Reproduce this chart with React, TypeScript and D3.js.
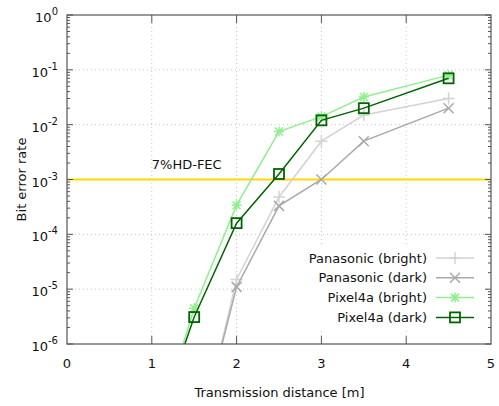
import React from 'react';
import * as d3 from 'd3';

// transmission distance [m]
const distances = [1, 1.5, 2, 2.5, 3, 3.5, 4.5];

// bit error rate per series (null = no measurement)
const panasonicBright = [null, 8e-9, 1.5e-5, 4.8e-4, 5e-3, 1.5e-2, 3e-2];
const panasonicDark = [null, 1e-8, 1.1e-5, 3.3e-4, 1e-3, 5e-3, 2e-2];
const pixelBright = [1.4e-8, 4.5e-6, 3.4e-4, 7.5e-3, 1.4e-2, 3.2e-2, 8e-2];
const pixelDark = [1.8e-8, 3.1e-6, 1.6e-4, 1.26e-3, 1.2e-2, 2e-2, 7e-2];

const seriesNames = ['Panasonic (bright)', 'Panasonic (dark)', 'Pixel4a (bright)', 'Pixel4a (dark)'];
const seriesColors = ['#d3d3d3', '#a9a9a9', '#90ee90', '#006400'];
const seriesMarkers = ['plus', 'cross', 'star', 'square'];

const xTicks = [0, 1, 2, 3, 4, 5];
const yExponents = [0, -1, -2, -3, -4, -5, -6];
const fecLevel = 1e-3;
const fecLabel = '7%HD-FEC';

const W = 499;
const H = 406;
const left = 67;
const right = 491;
const top = 15;
const bottom = 344;
const font = '"DejaVu Sans", sans-serif';

const Marker = ({ type, cx, cy, color }) => {
	if (type === 'plus') {
		return <path d={`M${cx - 6},${cy}H${cx + 6}M${cx},${cy - 6}V${cy + 6}`} stroke={color} strokeWidth={1.5} />;
	}
	if (type === 'cross') {
		return <path d={`M${cx - 5},${cy - 5}L${cx + 5},${cy + 5}M${cx - 5},${cy + 5}L${cx + 5},${cy - 5}`} stroke={color} strokeWidth={1.5} />;
	}
	if (type === 'star') {
		return (
			<path
				d={`M${cx - 5},${cy}H${cx + 5}M${cx},${cy - 5}V${cy + 5}M${cx - 4},${cy - 4}L${cx + 4},${cy + 4}M${cx - 4},${cy + 4}L${cx + 4},${cy - 4}`}
				stroke={color}
				strokeWidth={1.5}
			/>
		);
	}
	return <rect x={cx - 5} y={cy - 5} width={10} height={10} fill="none" stroke={color} strokeWidth={1.8} />;
};

const App = () => {
	const x = d3.scaleLinear().domain([0, 5]).range([left, right]);
	const y = d3.scaleLog().domain([1e-6, 1]).range([bottom, top]);
	const all = [panasonicBright, panasonicDark, pixelBright, pixelDark];

	const line = d3
		.line()
		.defined((d) => d[1] != null)
		.x((d) => x(d[0]))
		.y((d) => y(d[1]));

	const minorTicks = [];
	yExponents.slice(1).forEach((e) => {
		for (let m = 2; m <= 9; m++) minorTicks.push(m * Math.pow(10, e));
	});

	const legendX = 427;
	const legendY0 = 258;
	const legendStep = 19.8;

	return (
		<svg width={W} height={H} style={{ position: 'absolute', left: 0, top: 0, background: '#fff' }} fontFamily={font}>
			<defs>
				<clipPath id="plot">
					<rect x={left} y={top} width={right - left} height={bottom - top} />
				</clipPath>
			</defs>
			{/* grid */}
			<g stroke="#c8c8c8" strokeWidth={1} strokeDasharray="1,3">
				{xTicks.slice(1, -1).map((t) => (
					<line key={'gx' + t} x1={x(t)} x2={x(t)} y1={top} y2={bottom} />
				))}
				{yExponents.slice(1, -1).map((e) => (
					<line key={'gy' + e} x1={left} x2={right} y1={y(Math.pow(10, e))} y2={y(Math.pow(10, e))} />
				))}
			</g>
			{/* FEC threshold */}
			<line x1={left} x2={right} y1={y(fecLevel)} y2={y(fecLevel)} stroke="#ffd700" strokeWidth={2} />
			<text x={x(1)} y={y(fecLevel) - 11} fontSize={13} fill="#111">
				{fecLabel}
			</text>
			{/* series */}
			<g clipPath="url(#plot)">
				{all.map((vals, i) => {
					const pts = distances.map((d, j) => [d, vals[j]]);
					return (
						<g key={seriesNames[i]}>
							<path d={line(pts)} fill="none" stroke={seriesColors[i]} strokeWidth={1.5} />
							{pts
								.filter((p) => p[1] != null && p[1] >= 1e-6)
								.map((p, j) => (
									<Marker key={j} type={seriesMarkers[i]} cx={x(p[0])} cy={y(p[1])} color={seriesColors[i]} />
								))}
						</g>
					);
				})}
			</g>
			{/* legend */}
			<rect x={283} y={246} width={203} height={82} fill="#fff" />
			{seriesNames.map((name, i) => {
				const ly = legendY0 + i * legendStep;
				return (
					<g key={name}>
						<text x={legendX} y={ly} dy="0.35em" textAnchor="end" fontSize={13} fill="#111">
							{name}
						</text>
						<line x1={436} x2={474} y1={ly} y2={ly} stroke={seriesColors[i]} strokeWidth={1.5} />
						<Marker type={seriesMarkers[i]} cx={455} cy={ly} color={seriesColors[i]} />
					</g>
				);
			})}
			{/* ticks */}
			<g stroke="#555" strokeWidth={1}>
				{xTicks.slice(1, -1).map((t) => (
					<g key={'tx' + t}>
						<line x1={x(t)} x2={x(t)} y1={bottom} y2={bottom - 8} />
						<line x1={x(t)} x2={x(t)} y1={top} y2={top + 8} />
					</g>
				))}
				{yExponents.map((e) => (
					<g key={'ty' + e}>
						<line x1={left} x2={left + 6} y1={y(Math.pow(10, e))} y2={y(Math.pow(10, e))} />
						<line x1={right} x2={right - 6} y1={y(Math.pow(10, e))} y2={y(Math.pow(10, e))} />
					</g>
				))}
				{minorTicks.map((v, i) => (
					<g key={'my' + i}>
						<line x1={left} x2={left + 3} y1={y(v)} y2={y(v)} />
						<line x1={right} x2={right - 3} y1={y(v)} y2={y(v)} />
					</g>
				))}
			</g>
			{/* frame */}
			<rect x={left} y={top} width={right - left} height={bottom - top} fill="none" stroke="#555" strokeWidth={1.2} />
			{/* tick labels */}
			{xTicks.map((t) => (
				<text key={'lx' + t} x={x(t)} y={368} textAnchor="middle" fontSize={13} fill="#111">
					{t}
				</text>
			))}
			{yExponents.map((e) => (
				<text key={'ly' + e} x={58} y={y(Math.pow(10, e)) + 7} textAnchor="end" fontSize={13} fill="#111">
					<tspan>10</tspan>
					<tspan dy={-7} fontSize={10}>
						{e}
					</tspan>
				</text>
			))}
			{/* axis titles */}
			<text x={(left + right) / 2 + 0.5} y={397} textAnchor="middle" fontSize={13} fill="#111">
				Transmission distance [m]
			</text>
			<text transform={`translate(26, ${(top + bottom) / 2}) rotate(-90)`} textAnchor="middle" fontSize={13} fill="#111">
				Bit error rate
			</text>
		</svg>
	);
};

export default App;
